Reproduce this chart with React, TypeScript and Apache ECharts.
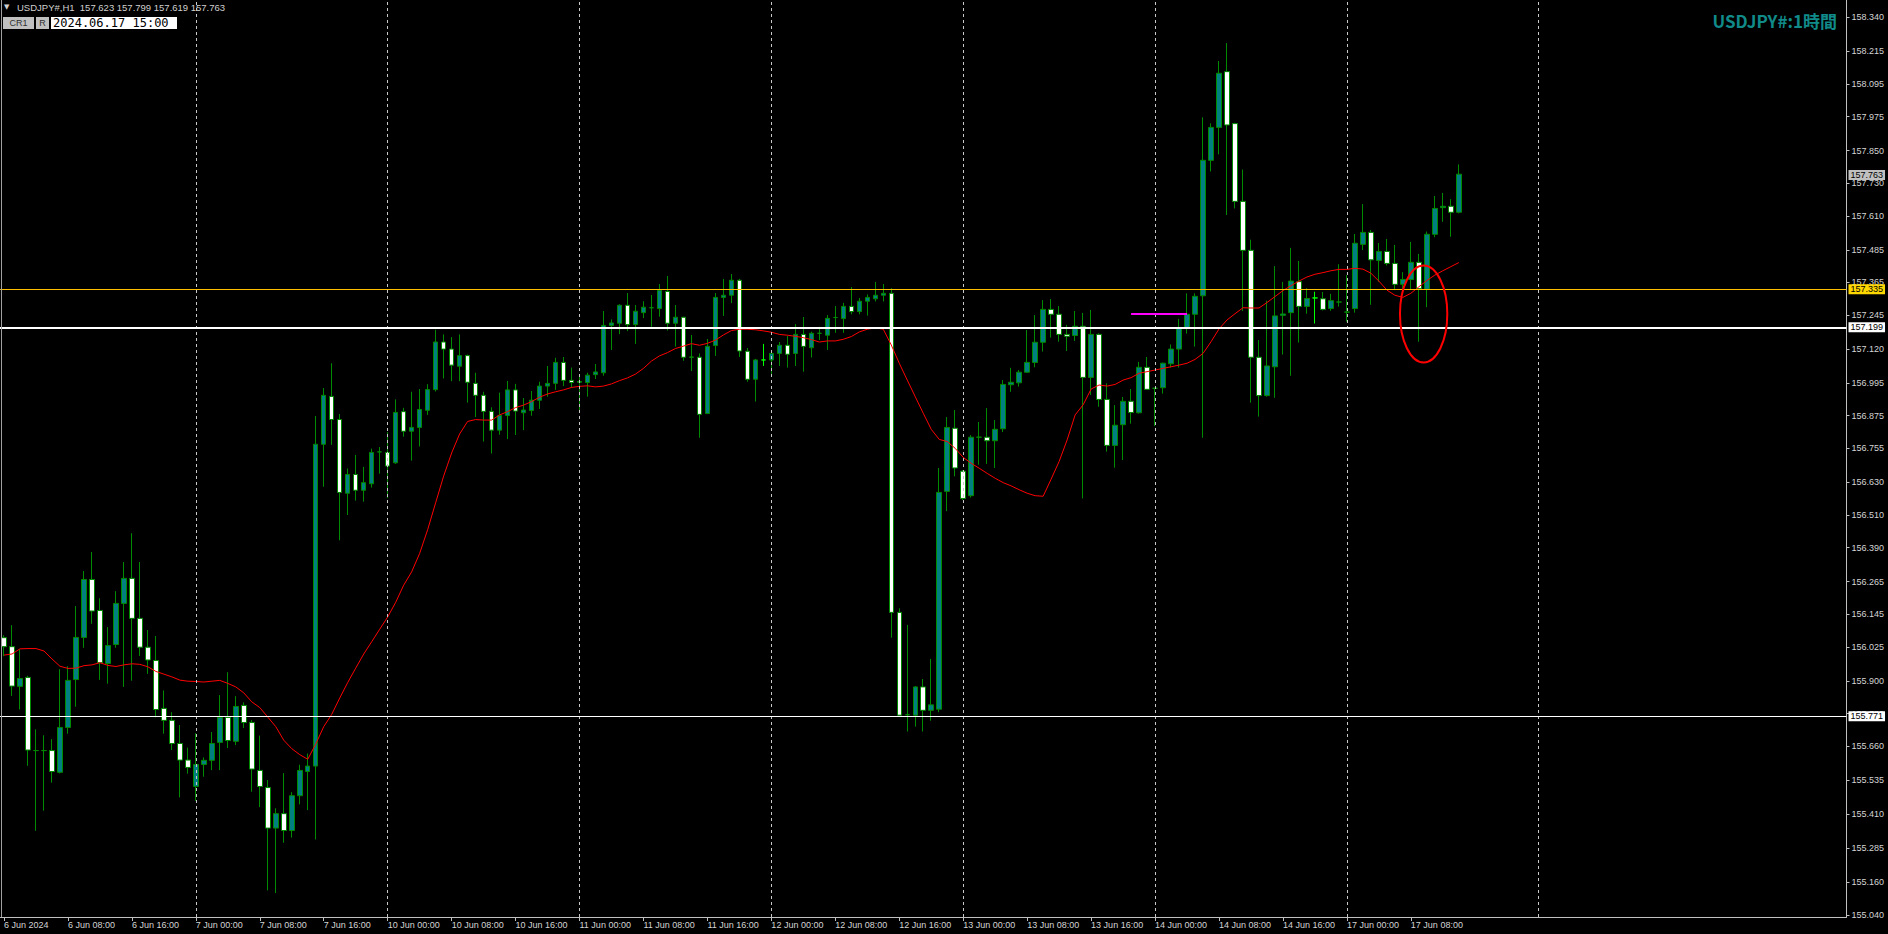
import React, { useEffect, useRef } from "react";
import * as echarts from "echarts";

// ---------- data ----------
const DAYS = ["6 Jun", "7 Jun", "10 Jun", "11 Jun", "12 Jun", "13 Jun", "14 Jun", "17 Jun", "18 Jun", "19 Jun"];
const TOTAL_SLOTS = 231;

const OPEN = [
  156.059, 156.026, 155.880, 155.913, 155.644, 155.644, 155.644, 155.564, 155.729, 155.905,
  156.060, 156.273, 156.159, 155.964, 156.034, 156.185, 156.277, 156.130, 156.024, 155.975,
  155.799, 155.755, 155.670, 155.609, 155.512, 155.593, 155.608, 155.674, 155.766, 155.678,
  155.810, 155.747, 155.571, 155.508, 155.359, 155.412, 155.350, 155.478, 155.567, 155.587,
  156.770, 156.946, 156.861, 156.590, 156.659, 156.601, 156.625, 156.742, 156.740, 156.702,
  156.890, 156.818, 156.832, 156.895, 156.971, 157.146, 157.120, 157.057, 157.096, 156.994,
  156.950, 156.891, 156.822, 156.876, 156.970, 156.886, 156.894, 156.932, 156.984, 156.994,
  157.071, 157.005, 156.998, 156.997, 157.026, 157.033, 157.207, 157.215, 157.281, 157.210,
  157.254, 157.272, 157.269, 157.332, 157.215, 157.237, 157.090, 157.090, 156.883, 157.133,
  157.310, 157.318, 157.373, 157.112, 157.009, 157.080, 157.080, 157.104, 157.134, 157.104,
  157.174, 157.125, 157.178, 157.171, 157.236, 157.232, 157.277, 157.258, 157.296, 157.305,
  157.318, 157.325, 156.152, 155.776, 155.774, 155.878, 155.792, 155.796, 156.597, 156.829,
  156.671, 156.581, 156.796, 156.796, 156.783, 156.827, 156.989, 156.996, 157.035, 157.071,
  157.145, 157.266, 157.248, 157.174, 157.170, 157.204, 157.016, 157.174, 156.935, 156.766,
  156.842, 156.928, 156.886, 157.053, 156.976, 156.978, 157.066, 157.120, 157.199, 157.248,
  157.316, 157.814, 157.935, 158.140, 157.949, 157.663, 157.483, 157.090, 156.949, 157.055,
  157.244, 157.254, 157.368, 157.277, 157.308, 157.305, 157.269, 157.293, 157.256, 157.269,
  157.505, 157.549, 157.446, 157.479, 157.435, 157.358, 157.376, 157.439, 157.340, 157.542,
  157.640, 157.645, 157.623,
];

const HIGH = [
  156.068, 156.105, 156.016, 155.919, 155.722, 155.700, 155.686, 155.943, 155.954, 156.175,
  156.304, 156.374, 156.204, 156.098, 156.230, 156.337, 156.443, 156.337, 156.087, 156.065,
  155.865, 155.785, 155.738, 155.655, 155.708, 155.619, 155.712, 155.848, 155.932, 155.844,
  155.821, 155.756, 155.699, 155.536, 155.432, 155.561, 155.491, 155.592, 155.633, 156.874,
  156.977, 157.068, 156.881, 156.681, 156.731, 156.687, 156.754, 156.760, 156.815, 156.935,
  156.904, 156.963, 156.973, 156.991, 157.191, 157.174, 157.164, 157.174, 157.100, 157.033,
  156.963, 156.906, 156.960, 157.003, 156.992, 156.940, 156.966, 157.000, 157.058, 157.088,
  157.091, 157.052, 157.025, 157.033, 157.065, 157.260, 157.229, 157.285, 157.326, 157.282,
  157.296, 157.319, 157.359, 157.389, 157.282, 157.239, 157.172, 157.104, 157.157, 157.326,
  157.378, 157.396, 157.378, 157.124, 157.084, 157.139, 157.108, 157.146, 157.168, 157.212,
  157.238, 157.184, 157.202, 157.245, 157.278, 157.290, 157.348, 157.308, 157.321, 157.367,
  157.359, 157.344, 156.167, 156.106, 155.881, 155.907, 155.981, 156.683, 156.870, 156.896,
  156.675, 156.804, 156.852, 156.903, 156.859, 157.006, 157.051, 157.043, 157.190, 157.245,
  157.300, 157.304, 157.278, 157.209, 157.260, 157.253, 157.264, 157.178, 156.994, 156.914,
  156.944, 156.973, 157.073, 157.091, 156.978, 157.070, 157.137, 157.231, 157.325, 157.325,
  157.972, 157.950, 158.179, 158.245, 157.952, 157.780, 157.522, 157.153, 157.298, 157.425,
  157.367, 157.492, 157.444, 157.344, 157.331, 157.330, 157.323, 157.432, 157.392, 157.543,
  157.653, 157.558, 157.510, 157.525, 157.503, 157.403, 157.514, 157.470, 157.552, 157.683,
  157.694, 157.671, 157.799,
];

const LOW = [
  155.991, 155.845, 155.795, 155.588, 155.349, 155.423, 155.526, 155.560, 155.706, 155.805,
  156.022, 156.110, 155.904, 155.890, 156.022, 155.878, 155.901, 155.992, 155.926, 155.766,
  155.706, 155.646, 155.472, 155.559, 155.459, 155.548, 155.572, 155.572, 155.653, 155.664,
  155.727, 155.493, 155.436, 155.130, 155.120, 155.305, 155.324, 155.446, 155.425, 155.317,
  156.614, 156.768, 156.417, 156.510, 156.563, 156.559, 156.611, 156.662, 156.572, 156.698,
  156.798, 156.710, 156.762, 156.878, 156.964, 157.012, 157.002, 157.002, 156.923, 156.870,
  156.780, 156.736, 156.805, 156.789, 156.804, 156.822, 156.875, 156.900, 156.945, 156.970,
  156.984, 156.978, 156.896, 156.945, 157.010, 157.022, 157.117, 157.175, 157.186, 157.139,
  157.234, 157.202, 157.239, 157.188, 157.129, 157.077, 157.039, 156.794, 156.883, 157.095,
  157.242, 157.289, 157.091, 157.000, 156.927, 157.058, 157.019, 157.058, 157.052, 157.058,
  157.037, 157.089, 157.153, 157.117, 157.180, 157.180, 157.248, 157.248, 157.243, 157.295,
  157.295, 156.059, 155.770, 155.714, 155.732, 155.714, 155.754, 155.785, 156.524, 156.652,
  156.565, 156.574, 156.695, 156.698, 156.683, 156.815, 156.963, 156.982, 157.033, 157.053,
  157.111, 157.162, 157.147, 157.113, 157.150, 156.571, 156.951, 156.908, 156.743, 156.684,
  156.712, 156.846, 156.883, 156.970, 156.837, 156.956, 157.052, 157.052, 157.177, 157.129,
  156.794, 157.773, 157.836, 157.613, 157.637, 157.260, 156.923, 156.872, 156.945, 156.941,
  157.100, 157.022, 157.144, 157.250, 157.214, 157.262, 157.261, 157.276, 157.221, 157.254,
  157.484, 157.283, 157.368, 157.427, 157.337, 157.318, 157.337, 157.147, 157.274, 157.531,
  157.588, 157.533, 157.619,
];

const CLOSE = [
  156.026, 155.881, 155.909, 155.646, 155.644, 155.644, 155.567, 155.729, 155.902, 156.060,
  156.273, 156.157, 155.967, 156.030, 156.185, 156.277, 156.130, 156.024, 155.977, 155.795,
  155.755, 155.670, 155.609, 155.582, 155.593, 155.608, 155.670, 155.766, 155.681, 155.806,
  155.747, 155.576, 155.512, 155.359, 155.412, 155.350, 155.478, 155.571, 155.587, 156.770,
  156.950, 156.861, 156.593, 156.659, 156.601, 156.629, 156.740, 156.742, 156.690, 156.887,
  156.818, 156.832, 156.898, 156.971, 157.146, 157.120, 157.061, 157.096, 156.998, 156.950,
  156.891, 156.822, 156.876, 156.970, 156.892, 156.896, 156.932, 156.984, 156.994, 157.071,
  157.005, 156.997, 157.001, 157.024, 157.036, 157.207, 157.216, 157.281, 157.210, 157.259,
  157.274, 157.272, 157.336, 157.215, 157.237, 157.090, 157.091, 156.880, 157.130, 157.310,
  157.318, 157.373, 157.113, 157.009, 157.080, 157.080, 157.104, 157.134, 157.101, 157.174,
  157.130, 157.178, 157.178, 157.233, 157.236, 157.277, 157.258, 157.296, 157.310, 157.318,
  157.325, 156.152, 155.774, 155.776, 155.878, 155.792, 155.812, 156.593, 156.832, 156.683,
  156.571, 156.796, 156.796, 156.783, 156.825, 156.990, 156.998, 157.035, 157.071, 157.145,
  157.266, 157.248, 157.174, 157.167, 157.204, 157.016, 157.174, 156.935, 156.766, 156.840,
  156.928, 156.887, 157.053, 156.972, 156.976, 157.068, 157.120, 157.196, 157.248, 157.314,
  157.814, 157.935, 158.134, 157.944, 157.663, 157.483, 157.090, 156.949, 157.058, 157.242,
  157.249, 157.370, 157.277, 157.306, 157.308, 157.266, 157.298, 157.293, 157.256, 157.509,
  157.549, 157.448, 157.479, 157.435, 157.358, 157.376, 157.439, 157.342, 157.542, 157.637,
  157.645, 157.623, 157.763,
];

const MA = [
  155.995, 155.999, 156.018, 156.019, 156.019, 156.010, 155.981, 155.954, 155.946, 155.947,
  155.956, 155.959, 155.967, 155.957, 155.953, 155.959, 155.963, 155.961, 155.952, 155.935,
  155.925, 155.915, 155.903, 155.899, 155.898, 155.896, 155.899, 155.902, 155.891, 155.878,
  155.856, 155.823, 155.802, 155.767, 155.732, 155.682, 155.651, 155.629, 155.612, 155.668,
  155.732, 155.777, 155.837, 155.894, 155.947, 155.999, 156.044, 156.090, 156.135, 156.189,
  156.252, 156.301, 156.369, 156.456, 156.555, 156.653, 156.738, 156.808, 156.854, 156.861,
  156.859, 156.859, 156.878, 156.890, 156.905, 156.914, 156.927, 156.943, 156.955, 156.963,
  156.970, 156.979, 156.983, 156.985, 156.981, 156.984, 156.992, 157.004, 157.014, 157.028,
  157.049, 157.076, 157.095, 157.107, 157.122, 157.131, 157.140, 157.134, 157.141, 157.153,
  157.172, 157.188, 157.193, 157.193, 157.191, 157.187, 157.182, 157.174, 157.171, 157.167,
  157.162, 157.155, 157.146, 157.150, 157.150, 157.156, 157.166, 157.183, 157.193, 157.198,
  157.193, 157.135, 157.068, 157.006, 156.945, 156.884, 156.825, 156.788, 156.780, 156.755,
  156.722, 156.700, 156.682, 156.663, 156.645, 156.629, 156.617, 156.603, 156.590, 156.581,
  156.579, 156.642, 156.707, 156.786, 156.878, 156.915, 156.973, 156.988, 156.984, 156.990,
  157.006, 157.015, 157.031, 157.037, 157.043, 157.049, 157.055, 157.061, 157.068, 157.082,
  157.104, 157.147, 157.194, 157.227, 157.250, 157.272, 157.271, 157.271, 157.291, 157.313,
  157.335, 157.353, 157.370, 157.385, 157.395, 157.401, 157.408, 157.413, 157.413, 157.417,
  157.414, 157.399, 157.370, 157.337, 157.318, 157.310, 157.325, 157.349, 157.372, 157.392,
  157.408, 157.423, 157.438,
];

const PRICE_TICKS = [
  158.340, 158.215, 158.095, 157.975, 157.850, 157.730, 157.610, 157.485, 157.365, 157.245,
  157.120, 156.995, 156.875, 156.755, 156.630, 156.510, 156.390, 156.265, 156.145, 156.025,
  155.900, 155.780, 155.660, 155.535, 155.410, 155.285, 155.160, 155.040,
];
const BOTTOM_TICK = 155.040;

const PRICE_MIN = 155.0321;
const PRICE_MAX = 158.4034;
const LEVEL_YELLOW = 157.335;
const LEVEL_WHITE_HI = 157.199;
const LEVEL_WHITE_LO = 155.771;
const LAST_PRICE = 157.763;
const MAGENTA_LEVEL = 157.25;
const MAGENTA_FROM = 141;
const MAGENTA_TO = 148;
const DAY_STARTS = [24, 48, 72, 96, 120, 144, 168, 192];
const LIME_DOJI = [95, 164];
const LABEL_EVERY = 8;
const LAST_LABEL = 176;
const ELLIPSE_BAR = 177.6;
const ELLIPSE_PRICE = 157.249;
const ELLIPSE_HALF_BARS = 2.96;
const ELLIPSE_HALF_PRICE = 0.178;

const HEADER = "USDJPY#,H1  157.623 157.799 157.619 157.763";
const TIME_BOX = "2024.06.17 15:00";
const TITLE = "USDJPY#:1時間";

// ---------- layout ----------
const W = 1888;
const H = 934;
const GRID_LEFT = -1.5;
const GRID_RIGHT = 41.5;
const GRID_TOP = 0;
const GRID_BOTTOM = 17;

// ---------- helpers ----------
const pad2 = (n: number) => (n < 10 ? "0" + n : "" + n);
const CATS: string[] = [];
for (let i = 0; i < TOTAL_SLOTS; i++) {
  CATS.push(`${DAYS[Math.floor(i / 24)]} ${pad2(i % 24)}:00`);
}

const FONT = "Liberation Sans";
const AXIS_TEXT = "#d4d4d4";
const AXIS_LINE = "#c0c0c0";
const CLEAR = "rgba(0,0,0,0)";

const PLOT_H = H - GRID_TOP - GRID_BOTTOM;
const Y_BOTTOM_TICK = GRID_TOP + ((PRICE_MAX - BOTTOM_TICK) / (PRICE_MAX - PRICE_MIN)) * PLOT_H;
const AXIS_X = W - GRID_RIGHT;

function levelLine(value: number, lineColor: string, width: number, boxColor: string) {
  return {
    yAxis: value,
    lineStyle: { color: lineColor, width, type: "solid" },
    label: {
      show: true,
      position: "end",
      distance: 2,
      formatter: () => value.toFixed(3),
      backgroundColor: boxColor,
      color: "#000000",
      fontSize: 9,
      fontFamily: FONT,
      padding: [1, 2, 0, 2],
    },
  };
}

export default function App() {
  const ref = useRef<HTMLDivElement>(null);

  useEffect(() => {
    document.body.style.margin = "0";
    document.body.style.background = "#000000";
    const chart = echarts.init(ref.current!, null, { renderer: "svg" });

    const candles = OPEN.map((o, i) => {
      const item: any = { value: [o, CLOSE[i], LOW[i], HIGH[i]] };
      if (LIME_DOJI.includes(i)) {
        item.itemStyle = { borderColor: "#00ff00", borderColor0: "#00ff00", color: "#00ff00", color0: "#00ff00" };
      }
      return item;
    });

    const showLabel = (i: number) => i % LABEL_EVERY === 0 && i <= LAST_LABEL;

    const option: any = {
      animation: false,
      backgroundColor: "#000000",
      grid: { left: GRID_LEFT, right: GRID_RIGHT, top: GRID_TOP, bottom: GRID_BOTTOM },
      xAxis: {
        type: "category",
        data: CATS,
        boundaryGap: true,
        axisLine: { show: true, lineStyle: { color: AXIS_LINE, width: 1 } },
        axisTick: {
          show: true,
          alignWithLabel: true,
          interval: (i: number) => showLabel(i),
          length: 4,
          lineStyle: { color: AXIS_LINE },
        },
        axisLabel: {
          interval: (i: number) => showLabel(i),
          formatter: (v: string, i: number) => (i === 0 ? "6 Jun 2024" : v),
          align: "left",
          margin: 3,
          color: AXIS_TEXT,
          fontSize: 9,
          fontFamily: FONT,
        },
        splitLine: { show: false },
      },
      yAxis: {
        type: "value",
        position: "right",
        min: PRICE_MIN,
        max: PRICE_MAX,
        axisLine: { show: true, lineStyle: { color: AXIS_LINE, width: 1 } },
        axisTick: { show: true, length: 3, customValues: PRICE_TICKS, lineStyle: { color: AXIS_LINE } },
        axisLabel: {
          customValues: PRICE_TICKS.filter((v) => v !== BOTTOM_TICK),
          formatter: (v: number) => v.toFixed(3),
          color: AXIS_TEXT,
          fontSize: 9,
          fontFamily: FONT,
          margin: 5,
          hideOverlap: false,
        },
        splitLine: { show: false },
      },
      series: [
        {
          type: "line",
          data: [],
          z: 1,
          silent: true,
          markLine: {
            silent: true,
            symbol: "none",
            label: { show: false },
            lineStyle: { color: "#c8c8c8", type: [3, 3], width: 1 },
            data: DAY_STARTS.map((i) => ({ xAxis: CATS[i] })),
          },
        },
        {
          type: "candlestick",
          z: 2,
          data: candles,
          barWidth: 5,
          itemStyle: {
            color: "#008080",
            color0: "#ffffff",
            borderColor: "#008a00",
            borderColor0: "#008a00",
            borderWidth: 1,
          },
        },
        {
          type: "line",
          z: 3,
          data: MA,
          symbol: "none",
          silent: true,
          lineStyle: { color: "#ff0000", width: 1 },
          itemStyle: { color: "#ff0000" },
        },
        {
          type: "line",
          z: 4,
          data: [],
          silent: true,
          markLine: {
            silent: true,
            symbol: "none",
            data: [
              levelLine(LEVEL_YELLOW, "#ffc000", 1, "#ffd700"),
              levelLine(LEVEL_WHITE_HI, "#ffffff", 2, "#ffffff"),
              levelLine(LEVEL_WHITE_LO, "#ffffff", 1, "#ffffff"),
              levelLine(LAST_PRICE, CLEAR, 1, "#c0c0c0"),
              [
                { coord: [CATS[MAGENTA_FROM], MAGENTA_LEVEL], lineStyle: { color: "#ff00ff", width: 2, type: "solid" }, label: { show: false } },
                { coord: [CATS[MAGENTA_TO], MAGENTA_LEVEL] },
              ],
            ],
          },
        },
      ],
      graphic: [
        { id: "leftBorder", type: "line", shape: { x1: 1.5, y1: 0, x2: 1.5, y2: 917 }, style: { stroke: "#a0a0a0", lineWidth: 1 }, z: 50 },
        { id: "tri", type: "text", x: 4, y: 7, style: { text: "▼", fill: "#d0d0d0", font: "7px DejaVu Sans", textVerticalAlign: "middle" }, z: 60 },
        { id: "header", type: "text", x: 17, y: 7, style: { text: HEADER, fill: "#d0d0d0", font: `9.5px ${FONT}`, textVerticalAlign: "middle" }, z: 60 },
        { id: "cr1Box", type: "rect", shape: { x: 3, y: 17, width: 31, height: 12 }, style: { fill: "#c0c0c0" }, z: 60 },
        { id: "cr1Txt", type: "text", x: 18.5, y: 23, style: { text: "CR1", fill: "#303030", font: `9px ${FONT}`, textAlign: "center", textVerticalAlign: "middle" }, z: 61 },
        { id: "rBox", type: "rect", shape: { x: 36, y: 17, width: 13, height: 12 }, style: { fill: "#c0c0c0" }, z: 60 },
        { id: "rTxt", type: "text", x: 42.5, y: 23, style: { text: "R", fill: "#303030", font: `9px ${FONT}`, textAlign: "center", textVerticalAlign: "middle" }, z: 61 },
        { id: "timeBox", type: "rect", shape: { x: 51, y: 17, width: 126, height: 12 }, style: { fill: "#ffffff" }, z: 60 },
        { id: "timeTxt", type: "text", x: 53, y: 23, style: { text: TIME_BOX, fill: "#000000", font: "12px DejaVu Sans Mono", textVerticalAlign: "middle" }, z: 61 },
        { id: "title", type: "text", x: 1837, y: 20, style: { text: TITLE, fill: "#118a8a", font: "bold 17px 'Noto Sans CJK JP'", textAlign: "right", textVerticalAlign: "middle" }, z: 60 },
      ],
    };

    chart.setOption(option);

    const p0 = chart.convertToPixel({ seriesIndex: 1 }, [CATS[Math.floor(ELLIPSE_BAR)], ELLIPSE_PRICE]) as number[];
    const p1 = chart.convertToPixel({ seriesIndex: 1 }, [CATS[Math.floor(ELLIPSE_BAR) + 1], ELLIPSE_PRICE + ELLIPSE_HALF_PRICE]) as number[];
    if (p0 && p1) {
      const barW = p1[0] - p0[0];
      const cx = p0[0] + (ELLIPSE_BAR - Math.floor(ELLIPSE_BAR)) * barW;
      chart.setOption({
        graphic: [
          {
            id: "ellipse",
            type: "ellipse",
            shape: { cx, cy: p0[1], rx: ELLIPSE_HALF_BARS * barW, ry: Math.abs(p0[1] - p1[1]) },
            style: { fill: "none", stroke: "#ff0000", lineWidth: 2 },
            z: 70,
          },
        ],
      });
    }

    return () => chart.dispose();
  }, []);

  return (
    <div style={{ position: "relative", width: W, height: H, background: "#000000" }}>
      <div ref={ref} style={{ position: "absolute", left: 0, top: 0, width: W, height: H }} />
      <div
        style={{
          position: "absolute",
          left: AXIS_X + 5,
          top: Y_BOTTOM_TICK - 6,
          height: 12,
          lineHeight: "12px",
          fontFamily: FONT,
          fontSize: 9,
          color: AXIS_TEXT,
          whiteSpace: "nowrap",
          pointerEvents: "none",
          zIndex: 5,
        }}
      >
        {BOTTOM_TICK.toFixed(3)}
      </div>
    </div>
  );
}
